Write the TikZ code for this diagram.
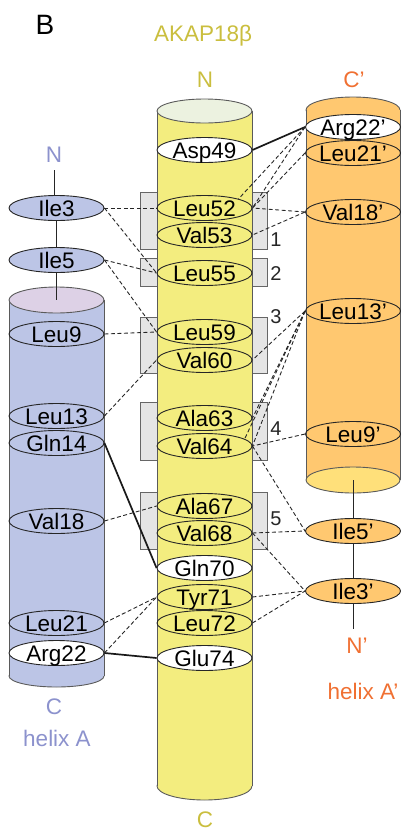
\documentclass[tikz,border=0pt]{standalone}
\usepackage{fontspec}
\setmainfont{Liberation Sans}
\usetikzlibrary{shapes.geometric}
\definecolor{ybody}{RGB}{243,237,127}
\definecolor{ytop}{RGB}{236,242,224}
\definecolor{bbody}{RGB}{188,197,230}
\definecolor{btop}{RGB}{221,209,230}
\definecolor{obody}{RGB}{255,200,112}
\definecolor{obot}{RGB}{255,224,122}
\definecolor{boxgray}{RGB}{229,229,229}
\definecolor{ytext}{RGB}{202,190,62}
\definecolor{btext}{RGB}{140,146,205}
\definecolor{otext}{RGB}{240,112,50}
\definecolor{cylline}{RGB}{90,90,90}
\newcommand\rt[1]{\makebox[0pt]{\raisebox{-.36em}[0pt][0pt]{#1}}}
\begin{document}
\begin{tikzpicture}[x=1pt,y=-1pt,
  res/.style={ellipse, draw=black!85, line width=0.9pt, minimum width=95pt, minimum height=25pt, inner sep=0pt, font=\fontsize{22.5}{24}\selectfont},
  resw/.style={res, fill=white},
  resb/.style={res, fill=bbody},
  reso/.style={res, fill=obody},
  hb/.style={dash pattern=on 4pt off 2.5pt, line width=0.9pt, black!85},
  sb/.style={line width=1.7pt, black!90},
  cyl/.style={draw=cylline, line width=0.9pt},
  gbox/.style={fill=boxgray, draw=black!60, line width=0.9pt},
  num/.style={font=\fontsize{20}{22}\selectfont, text=black!85},
  lab/.style={font=\fontsize{22.5}{24}\selectfont},
  conn/.style={line width=0.9pt, black!85}]
\useasboundingbox (0,0) rectangle (403,833);

% title labels
\node[font=\fontsize{28}{30}\selectfont] (B) at (45,25) {B};
\node[lab, text=ytext] (akap) at (203,36) {AKAP18β};
\node[lab, text=ytext] (yN) at (205,80) {N};
\node[lab, text=ytext] (yC) at (205,820) {C};
\node[lab, text=otext] (oC) at (354,80) {C’};
\node[lab, text=btext] (bN) at (54,155) {N};
\node[lab, text=btext] (bC) at (54,707) {C};
\node[lab, text=btext] (hA) at (57,738) {helix A};
\node[lab, text=otext] (oN) at (357,646) {N’};
\node[lab, text=otext] (hAp) at (363,691) {helix A’};

% gray boxes
\draw[gbox] (140,192) rectangle (267,249);
\draw[gbox] (140,258) rectangle (267,286);
\draw[gbox] (140,317) rectangle (267,373);
\draw[gbox] (140,402) rectangle (267,460);
\draw[gbox] (140,492) rectangle (267,549);
\node[num] (n1) at (276,240) {1};
\node[num] (n2) at (276,274) {2};
\node[num] (n3) at (276,317) {3};
\node[num] (n4) at (276,429) {4};
\node[num] (n5) at (276,519) {5};

% yellow cylinder
\filldraw[fill=ybody, cyl] (204.5,786) ellipse [x radius=47.5, y radius=14];
\fill[ybody] (157,111) rectangle (252,786);
\draw[cyl] (157,111) -- (157,786) (252,111) -- (252,786);
\filldraw[fill=ytop, cyl] (204.5,111) ellipse [x radius=47.5, y radius=12];

% blue cylinder
\filldraw[fill=bbody, cyl] (56.5,676) ellipse [x radius=47.5, y radius=11];
\fill[bbody] (9,300) rectangle (104,676);
\draw[cyl] (9,300) -- (9,676) (104,300) -- (104,676);
\filldraw[fill=btop, cyl] (56.5,300) ellipse [x radius=47.5, y radius=13];
\coordinate (btopc) at (56.5,300);

% orange cylinder
\filldraw[fill=obody, cyl] (353,110) ellipse [x radius=47, y radius=13];
\fill[obody] (306,110) rectangle (400,480);
\draw[cyl] (306,110) -- (306,480) (400,110) -- (400,480);
\filldraw[fill=obot, cyl] (353,480) ellipse [x radius=47, y radius=13];
\coordinate (obotc) at (353,480);
\coordinate (oend) at (353,629);

% yellow residues
\node[resw] (Asp49) at (204.5,150) {\rt{Asp49}};
\node[res] (Leu52) at (204.5,208) {\rt{Leu52}};
\node[res] (Val53) at (204.5,235) {\rt{Val53}};
\node[res] (Leu55) at (204.5,273) {\rt{Leu55}};
\node[res] (Leu59) at (204.5,332) {\rt{Leu59}};
\node[res] (Val60) at (204.5,360) {\rt{Val60}};
\node[res] (Ala63) at (204.5,418) {\rt{Ala63}};
\node[res] (Val64) at (204.5,446) {\rt{Val64}};
\node[res] (Ala67) at (204.5,506) {\rt{Ala67}};
\node[res] (Val68) at (204.5,533) {\rt{Val68}};
\node[resw] (Gln70) at (204.5,568) {\rt{Gln70}};
\node[res] (Tyr71) at (204.5,597) {\rt{Tyr71}};
\node[res] (Leu72) at (204.5,623) {\rt{Leu72}};
\node[resw] (Glu74) at (204.5,658) {\rt{Glu74}};

% blue residues
\node[resb] (Ile3) at (56.5,208) {\rt{Ile3}};
\node[resb] (Ile5) at (56.5,260) {\rt{Ile5}};
\node[res] (Leu9) at (56.5,334) {\rt{Leu9}};
\node[res] (Leu13) at (56.5,416) {\rt{Leu13}};
\node[res] (Gln14) at (56.5,443) {\rt{Gln14}};
\node[res] (Val18) at (56.5,521) {\rt{Val18}};
\node[res] (Leu21) at (56.5,623) {\rt{Leu21}};
\node[resw] (Arg22) at (56.5,653) {\rt{Arg22}};

% orange residues
\node[resw] (Arg22p) at (353,127) {\rt{Arg22’}};
\node[res] (Leu21p) at (353,153) {\rt{Leu21’}};
\node[res] (Val18p) at (353,212) {\rt{Val18’}};
\node[res] (Leu13p) at (353,311) {\rt{Leu13’}};
\node[res] (Leu9p) at (353,434) {\rt{Leu9’}};
\node[reso] (Ile5p) at (353,531) {\rt{Ile5’}};
\node[reso] (Ile3p) at (353,591) {\rt{Ile3’}};

% chain lines
\draw[conn] ([yshift=-4pt]bN.south) -- (bN.south |- Ile3.north);
\draw[conn] (Ile3.south) -- (Ile5.north);
\draw[conn] (Ile5.south) -- (btopc);
\draw[conn] (obotc) -- (Ile5p.north);
\draw[conn] (Ile5p.south) -- (Ile3p.north);
\draw[conn] (Ile3p.south) -- (oend);

% solid connectors
\draw[sb] (Asp49.east) -- (Arg22p.west);
\draw[sb] (Gln14.east) -- (Gln70.west);
\draw[sb] (Arg22.east) -- (Glu74.west);

% dashed connectors, left
\draw[hb] (Ile3.east) -- (Leu52.west);
\draw[hb] (Ile3.east) -- (Leu55.west);
\draw[hb] (Ile5.east) -- (Leu55.west);
\draw[hb] (Ile5.east) -- (Leu59.west);
\draw[hb] (Leu9.east) -- (Leu59.west);
\draw[hb] (Leu13.east) -- (Val60.west);
\draw[hb] (Val18.east) -- (Ala67.west);
\draw[hb] (Leu21.east) -- (Tyr71.west);
\draw[hb] (Arg22.east) -- (Tyr71.west);

% dashed connectors, right
\draw[hb] (Arg22p.west) -- (Leu52.east);
\draw[hb] (Arg22p.west) -- (Leu52.15);
\draw[hb] (Leu21p.west) -- (Leu52.east);
\draw[hb] (Val18p.west) -- (Leu52.east);
\draw[hb] (Val18p.west) -- (Val53.east);
\draw[hb] (Leu13p.west) -- (Val60.east);
\draw[hb] (Leu13p.west) -- (Ala63.east);
\draw[hb] (Leu13p.west) -- (Val64.east);
\draw[hb] (Leu13p.west) -- (Val64.10);
\draw[hb] (Leu9p.west) -- (Val64.east);
\draw[hb] (Val64.east) -- (Ile5p.west);
\draw[hb] (Val68.east) -- (Ile5p.west);
\draw[hb] (Val68.east) -- (Ile3p.west);
\draw[hb] (Tyr71.east) -- (Ile3p.west);
\draw[hb] (Leu72.east) -- (Ile3p.west);
\end{tikzpicture}
\end{document}
